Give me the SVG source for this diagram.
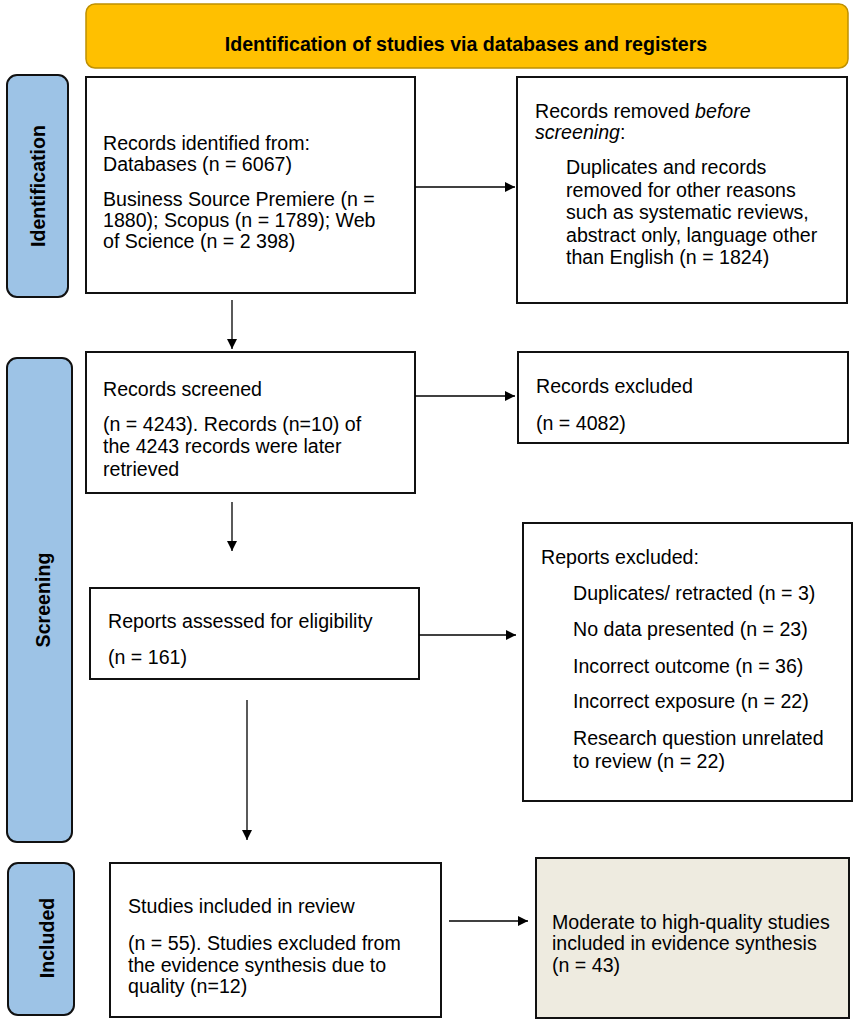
<svg xmlns="http://www.w3.org/2000/svg" width="857" height="1022" viewBox="0 0 857 1022">
<style>
.t{font-family:"Liberation Sans",Arial,sans-serif;font-size:19.6px;fill:#000}
.b{font-family:"Liberation Sans",Arial,sans-serif;font-size:19.6px;font-weight:bold;fill:#000}
.box{fill:#fff;stroke:#111;stroke-width:2}
.side{fill:#9DC3E6;stroke:#111;stroke-width:2}
.c{stroke:#000;stroke-width:1.3;fill:none}
</style>
<defs>
<marker id="ah" viewBox="0 0 10 10" refX="10" refY="5" markerWidth="10" markerHeight="10" markerUnits="userSpaceOnUse" orient="auto">
<path d="M0,0 L10,5 L0,10 Z" fill="#000"/>
</marker>
</defs>
<rect width="857" height="1022" fill="#fff"/>

<g id="header">
<rect x="86" y="4" width="762" height="64" rx="9" fill="#FFC000" stroke="#BF9000" stroke-width="1.5"/>
<text class="b" x="466" y="51" text-anchor="middle">Identification of studies via databases and registers</text>
</g>

<g id="lbl-identification">
<rect class="side" x="7" y="75" width="61" height="222" rx="10"/>
<text class="b" transform="translate(45,186) rotate(-90)" text-anchor="middle">Identification</text>
</g>
<g id="lbl-screening">
<rect class="side" x="7" y="358" width="65" height="484" rx="10"/>
<text class="b" transform="translate(50,600) rotate(-90)" text-anchor="middle">Screening</text>
</g>
<g id="lbl-included">
<rect class="side" x="8" y="863" width="66" height="152" rx="10"/>
<text class="b" transform="translate(54,938) rotate(-90)" text-anchor="middle">Included</text>
</g>

<g id="n-identified">
<rect class="box" x="86" y="77" width="329" height="216"/>
<text class="t" x="103" y="150">Records identified from:</text>
<text class="t" x="103" y="171">Databases (n = 6067)</text>
<text class="t" x="103" y="206">Business Source Premiere (n =</text>
<text class="t" x="103" y="227">1880); Scopus (n = 1789); Web</text>
<text class="t" x="103" y="248">of Science (n = 2 398)</text>
</g>

<g id="n-removed">
<rect class="box" x="517" y="77" width="330" height="226"/>
<text class="t" x="535" y="118">Records removed <tspan font-style="italic">before</tspan></text>
<text class="t" x="535" y="139"><tspan font-style="italic">screening</tspan>:</text>
<text class="t" x="566" y="174">Duplicates and records</text>
<text class="t" x="566" y="197">removed for other reasons</text>
<text class="t" x="566" y="219">such as systematic reviews,</text>
<text class="t" x="566" y="242">abstract only, language other</text>
<text class="t" x="566" y="264">than English (n = 1824)</text>
</g>

<g id="n-screened">
<rect class="box" x="86" y="352" width="329" height="141"/>
<text class="t" x="103" y="396">Records screened</text>
<text class="t" x="103" y="431">(n = 4243). Records (n=10) of</text>
<text class="t" x="103" y="453">the 4243 records were later</text>
<text class="t" x="103" y="476">retrieved</text>
</g>

<g id="n-excluded">
<rect class="box" x="518" y="352" width="330" height="91"/>
<text class="t" x="536" y="393">Records excluded</text>
<text class="t" x="536" y="430">(n = 4082)</text>
</g>

<g id="n-assessed">
<rect class="box" x="90" y="588" width="329" height="91"/>
<text class="t" x="108" y="628">Reports assessed for eligibility</text>
<text class="t" x="108" y="664">(n = 161)</text>
</g>

<g id="n-reports-excluded">
<rect class="box" x="523" y="523" width="329" height="278"/>
<text class="t" x="541" y="564">Reports excluded:</text>
<text class="t" x="573" y="600">Duplicates/ retracted (n = 3)</text>
<text class="t" x="573" y="636">No data presented (n = 23)</text>
<text class="t" x="573" y="673">Incorrect outcome (n = 36)</text>
<text class="t" x="573" y="708">Incorrect exposure (n = 22)</text>
<text class="t" x="573" y="745">Research question unrelated</text>
<text class="t" x="573" y="768">to review (n = 22)</text>
</g>

<g id="n-included">
<rect class="box" x="110" y="863" width="331" height="154"/>
<text class="t" x="128" y="913">Studies included in review</text>
<text class="t" x="128" y="950">(n = 55). Studies excluded from</text>
<text class="t" x="128" y="972">the evidence synthesis due to</text>
<text class="t" x="128" y="993">quality (n=12)</text>
</g>

<g id="n-synthesis">
<rect x="536" y="858" width="313" height="160" fill="#EEEBE0" stroke="#111" stroke-width="2"/>
<text class="t" x="552" y="929">Moderate to high-quality studies</text>
<text class="t" x="552" y="950">included in evidence synthesis</text>
<text class="t" x="552" y="972">(n = 43)</text>
</g>

<g id="connectors">
<line class="c" x1="415" y1="187" x2="515" y2="187" marker-end="url(#ah)"/>
<line class="c" x1="232" y1="300" x2="232" y2="349" marker-end="url(#ah)"/>
<line class="c" x1="415" y1="396" x2="515" y2="396" marker-end="url(#ah)"/>
<line class="c" x1="232" y1="502" x2="232" y2="551" marker-end="url(#ah)"/>
<line class="c" x1="419" y1="635" x2="516" y2="635" marker-end="url(#ah)"/>
<line class="c" x1="247" y1="700" x2="247" y2="840" marker-end="url(#ah)"/>
<line class="c" x1="449" y1="921" x2="528" y2="921" marker-end="url(#ah)"/>
</g>
</svg>
